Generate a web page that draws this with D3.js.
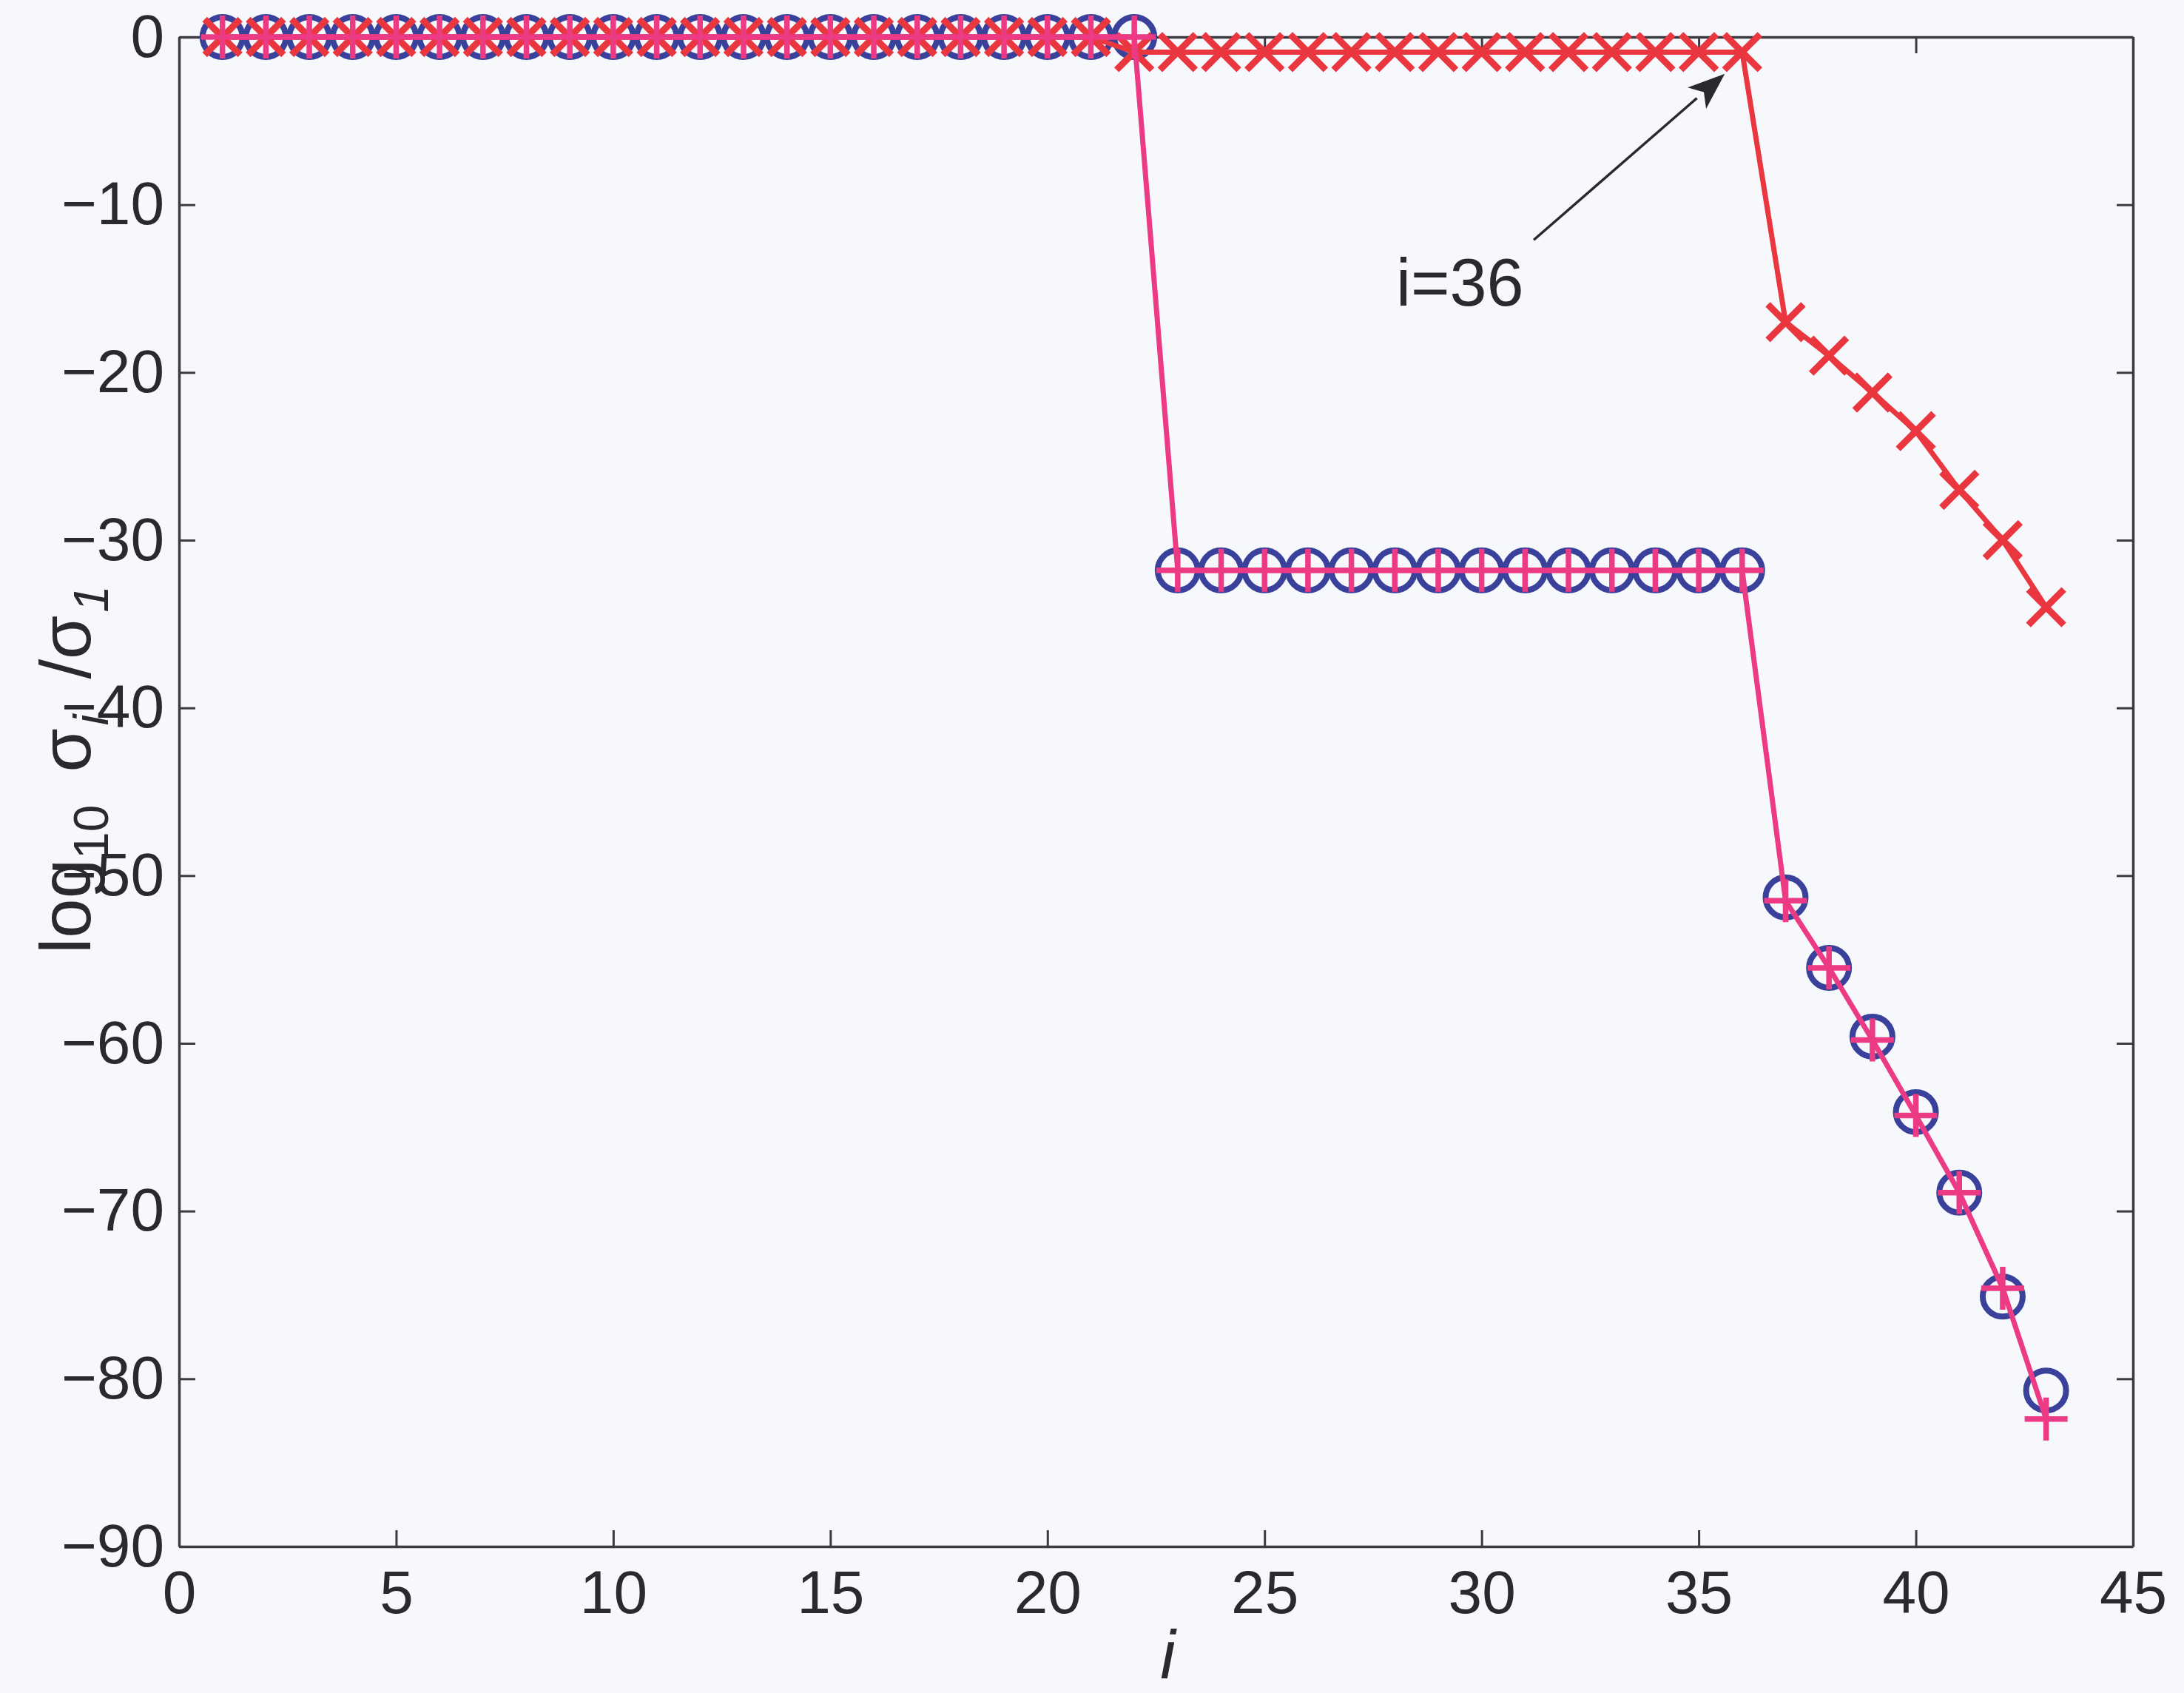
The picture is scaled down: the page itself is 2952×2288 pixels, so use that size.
<!DOCTYPE html>
<html>
<head>
<meta charset="utf-8">
<script src="https://cdn.jsdelivr.net/npm/d3@7"></script>
<style>
  html, body { margin: 0; padding: 0; background: #f7f8fc; }
  svg { display: block; }
  text { font-family: "Liberation Sans", Arial, Helvetica, sans-serif; fill: #2a2a2e; }
</style>
</head>
<body>
<svg id="chart" width="2952" height="2288"></svg>
<script>
// ---- data ----
const indexI = d3.range(1, 44); // i = 1..43

// blue circles
const seriesCircle = [
  0,0,0,0,0,0,0,0,0,0, 0,0,0,0,0,0,0,0,0,0, 0,0,
  -31.8,-31.8,-31.8,-31.8,-31.8,-31.8,-31.8,-31.8,-31.8,-31.8,-31.8,-31.8,-31.8,-31.8,
  -51.3,-55.5,-59.6,-64.1,-68.9,-75.1,-80.7
];
// red crosses (x)
const seriesCross = [
  0,0,0,0,0,0,0,0,0,0, 0,0,0,0,0,0,0,0,0,0, 0,
  -0.9,-0.9,-0.9,-0.9,-0.9,-0.9,-0.9,-0.9,-0.9,-0.9,-0.9,-0.9,-0.9,-0.9,-0.9,
  -17.0,-19.0,-21.2,-23.5,-27.0,-30.0,-34.0
];
// magenta pluses (+)
const seriesPlus = [
  0,0,0,0,0,0,0,0,0,0, 0,0,0,0,0,0,0,0,0,0, 0,0,
  -31.8,-31.8,-31.8,-31.8,-31.8,-31.8,-31.8,-31.8,-31.8,-31.8,-31.8,-31.8,-31.8,-31.8,
  -51.5,-55.5,-59.8,-64.3,-68.9,-74.6,-82.4
];

const xTicks = [0, 5, 10, 15, 20, 25, 30, 35, 40, 45];
const yTicks = [-90, -80, -70, -60, -50, -40, -30, -20, -10, 0];

const annotationText = "i=36";
const annotationTextPos = [29.5, -16.0];
const arrowFrom = [31.2, -12.1];
const arrowTo = [35.6, -2.2];

// ---- layout ----
const W = 2952, H = 2288;
const L = 242, R = 2883, T = 50, B = 2090;
const colBlue = "#3a419b", colRed = "#e9363f", colPink = "#ec3a84", colAxis = "#3a3a40";

const svg = d3.select("#chart");
svg.append("rect").attr("width", W).attr("height", H).attr("fill", "#f7f8fc");

const x = d3.scaleLinear().domain([0, 45]).range([L, R]);
const y = d3.scaleLinear().domain([-90, 0]).range([B, T]);

const fs = 82;
const tickLen = 22;

function styleAxis(g) {
  g.selectAll("path.domain").attr("stroke", colAxis).attr("stroke-width", 3.5);
  g.selectAll(".tick line").attr("stroke", colAxis).attr("stroke-width", 3);
  g.selectAll(".tick text").attr("fill", "#2a2a2e").style("font-size", fs + "px")
    .style("font-family", '"Liberation Sans", Arial, sans-serif');
}

const fmt = d3.format("d");
svg.append("g").attr("transform", `translate(0,${B})`)
  .call(d3.axisBottom(x).tickValues(xTicks).tickFormat(fmt).tickSize(-tickLen).tickSizeOuter(0).tickPadding(32))
  .call(styleAxis);
svg.append("g").attr("transform", `translate(${L},0)`)
  .call(d3.axisLeft(y).tickValues(yTicks).tickFormat(fmt).tickSize(-tickLen).tickSizeOuter(0).tickPadding(20))
  .call(styleAxis);
svg.append("g").attr("transform", `translate(0,${T})`)
  .call(d3.axisTop(x).tickValues(xTicks).tickFormat("").tickSize(-tickLen).tickSizeOuter(0))
  .call(styleAxis);
svg.append("g").attr("transform", `translate(${R},0)`)
  .call(d3.axisRight(y).tickValues(yTicks).tickFormat("").tickSize(-tickLen).tickSizeOuter(0))
  .call(styleAxis);

// ---- series ----
const line = d3.line().x(d => x(d[0])).y(d => y(d[1]));
const circData = indexI.map((d, k) => [d, seriesCircle[k]]);
const crossData = indexI.map((d, k) => [d, seriesCross[k]]);
const plusData = indexI.map((d, k) => [d, seriesPlus[k]]);

// blue circles (markers only)
svg.append("g").selectAll("circle").data(circData).join("circle")
  .attr("cx", d => x(d[0])).attr("cy", d => y(d[1])).attr("r", 27)
  .attr("fill", "none").attr("stroke", colBlue).attr("stroke-width", 8);

// red line + x markers
svg.append("path").datum(crossData).attr("d", line)
  .attr("fill", "none").attr("stroke", colRed).attr("stroke-width", 7).attr("stroke-linejoin", "round");
const xs = 24;
svg.append("g").selectAll("path").data(crossData).join("path")
  .attr("d", d => {
    const cx = x(d[0]), cy = y(d[1]);
    return `M${cx - xs},${cy - xs}L${cx + xs},${cy + xs}M${cx - xs},${cy + xs}L${cx + xs},${cy - xs}`;
  })
  .attr("stroke", colRed).attr("stroke-width", 9).attr("fill", "none");

// magenta line + plus markers
svg.append("path").datum(plusData).attr("d", line)
  .attr("fill", "none").attr("stroke", colPink).attr("stroke-width", 7).attr("stroke-linejoin", "round");
const ps = 29;
svg.append("g").selectAll("path").data(plusData).join("path")
  .attr("d", d => {
    const cx = x(d[0]), cy = y(d[1]);
    return `M${cx - ps},${cy}L${cx + ps},${cy}M${cx},${cy - ps}L${cx},${cy + ps}`;
  })
  .attr("stroke", colPink).attr("stroke-width", 7.5).attr("fill", "none");

// ---- annotation ----
svg.append("text")
  .attr("x", x(annotationTextPos[0])).attr("y", y(annotationTextPos[1]))
  .attr("text-anchor", "middle").style("font-size", "90px").text(annotationText);

const ax0 = x(arrowFrom[0]), ay0 = y(arrowFrom[1]);
const ax1 = x(arrowTo[0]), ay1 = y(arrowTo[1]);
const ang = Math.atan2(ay1 - ay0, ax1 - ax0);
const headL = 50, headW = 19;
const bx = ax1 - headL * Math.cos(ang), by = ay1 - headL * Math.sin(ang);
svg.append("line").attr("x1", ax0).attr("y1", ay0).attr("x2", bx).attr("y2", by)
  .attr("stroke", "#2a2a2e").attr("stroke-width", 3.5);
const px = -Math.sin(ang), py = Math.cos(ang);
const nx = ax1 - headL * 0.75 * Math.cos(ang), ny = ay1 - headL * 0.75 * Math.sin(ang);
svg.append("path")
  .attr("d", `M${ax1},${ay1}L${bx + px * headW},${by + py * headW}L${nx},${ny}L${bx - px * headW},${by - py * headW}Z`)
  .attr("fill", "#2a2a2e");

// ---- axis labels ----
svg.append("text")
  .attr("x", (L + R) / 2 + 16).attr("y", 2268)
  .attr("text-anchor", "middle").style("font-size", "92px").style("font-style", "italic").text("i");

const yl = svg.append("text")
  .attr("transform", `translate(122,1040) rotate(-90)`)
  .attr("text-anchor", "middle").style("font-size", "96px");
yl.append("tspan").text("log");
yl.append("tspan").attr("dy", 24).style("font-size", "66px").text("10");
yl.append("tspan").attr("dy", -24).attr("dx", 44).text("σ");
yl.append("tspan").attr("dy", 24).attr("dx", 4).style("font-size", "66px").style("font-style", "italic").text("i");
yl.append("tspan").attr("dy", -24).attr("dx", 48).text("/σ");
yl.append("tspan").attr("dy", 24).attr("dx", 4).style("font-size", "66px").style("font-style", "italic").text("1");
</script>
</body>
</html>
